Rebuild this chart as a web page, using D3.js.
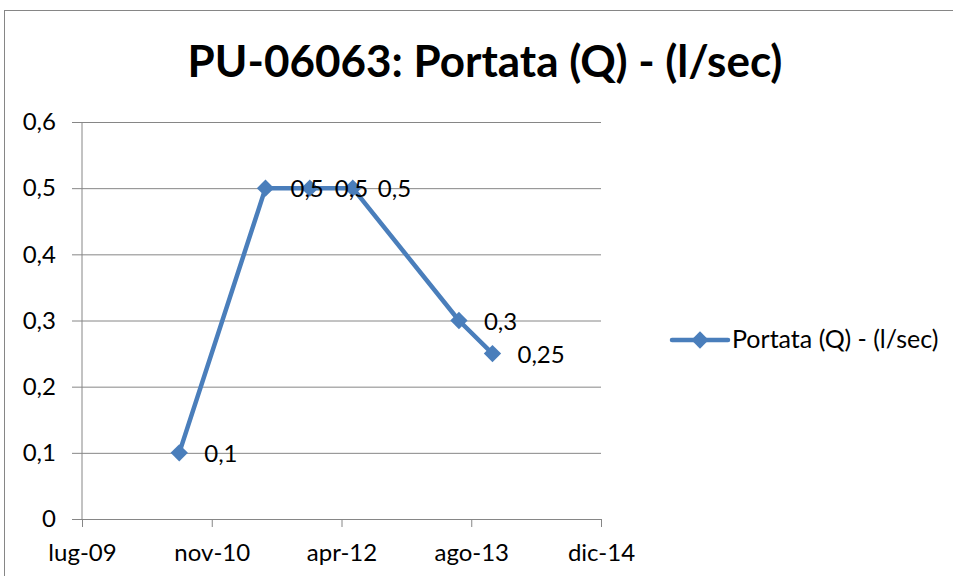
<!DOCTYPE html>
<html>
<head>
<meta charset="utf-8">
<script src="https://cdn.jsdelivr.net/npm/d3@7"></script>
<style>
  body { margin: 0; background: #fff; }
  svg { display: block; }
  text { font-family: Lato, "Open Sans", sans-serif; fill: #000; }
</style>
</head>
<body>
<svg id="chart" width="953" height="576"></svg>
<script>
// Chart data
const chartTitle = "PU-06063: Portata (Q) - (l/sec)";
const seriesName = "Portata (Q) - (l/sec)";
const sampleDates = ["2010-07-27", "2011-06-21", "2011-12-07", "2012-05-19", "2013-06-28", "2013-11-03"];
const sampleValues = [0.1, 0.5, 0.5, 0.5, 0.3, 0.25];
const xTickDates = ["2009-07-21", "2010-11-28", "2012-04-06", "2013-08-14", "2014-12-22"];
const yTickValues = [0, 0.1, 0.2, 0.3, 0.4, 0.5, 0.6];

// Italian locale for dates and decimal comma
const itTime = d3.timeFormatLocale({
  dateTime: "%A %e %B %Y, %X", date: "%d/%m/%Y", time: "%H:%M:%S",
  periods: ["AM", "PM"],
  days: ["domenica", "lunedì", "martedì", "mercoledì", "giovedì", "venerdì", "sabato"],
  shortDays: ["dom", "lun", "mar", "mer", "gio", "ven", "sab"],
  months: ["gennaio", "febbraio", "marzo", "aprile", "maggio", "giugno", "luglio", "agosto", "settembre", "ottobre", "novembre", "dicembre"],
  shortMonths: ["gen", "feb", "mar", "apr", "mag", "giu", "lug", "ago", "set", "ott", "nov", "dic"]
});
const itNum = d3.formatLocale({ decimal: ",", thousands: ".", grouping: [3], currency: ["€", ""] });
const numFmt = itNum.format("~f");
const dateFmt = itTime.format("%b-%y");
const parse = d3.timeParse("%Y-%m-%d");

const data = sampleDates.map((d, i) => ({ date: parse(d), value: sampleValues[i] }));
const xTicks = xTickDates.map(parse);

const svg = d3.select("#chart");
const blue = "#4A7EBB";
const axisGrey = "#868686";

// Outer chart frame
svg.append("rect")
  .attr("x", 4.5).attr("y", 10.5)
  .attr("width", 1000).attr("height", 1000)
  .attr("fill", "#fff").attr("stroke", axisGrey).attr("stroke-width", 1);

const plot = { left: 82, right: 601, top: 122, bottom: 519 };

const x = d3.scaleTime().domain([xTicks[0], xTicks[xTicks.length - 1]]).range([plot.left, plot.right]);
const y = d3.scaleLinear().domain([0, 0.6]).range([plot.bottom, plot.top]);

// Title
svg.append("text")
  .attr("x", 485).attr("y", 77)
  .attr("text-anchor", "middle")
  .style("font-size", "44px").style("font-weight", "bold")
  .text(chartTitle);

// Horizontal gridlines with left tick marks
const yAxis = svg.append("g")
  .attr("transform", `translate(${plot.left},0)`)
  .call(d3.axisLeft(y).tickValues(yTickValues).tickSizeInner(-(plot.right - plot.left)).tickSizeOuter(0).tickFormat(numFmt).tickPadding(26));
yAxis.select(".domain").remove();
yAxis.selectAll(".tick line")
  .attr("x1", -10)
  .attr("stroke", axisGrey).attr("stroke-width", 1);
yAxis.selectAll(".tick text")
  .style("font-size", "24px").style("font-family", "Lato, sans-serif").attr("fill", "#000");

// Vertical axis line
svg.append("line")
  .attr("x1", plot.left).attr("x2", plot.left)
  .attr("y1", plot.top).attr("y2", plot.bottom)
  .attr("stroke", axisGrey).attr("stroke-width", 1);

// Date axis
const xAxis = svg.append("g")
  .attr("transform", `translate(0,${plot.bottom})`)
  .call(d3.axisBottom(x).tickValues(xTicks).tickSizeInner(8).tickSizeOuter(0).tickFormat(dateFmt).tickPadding(17));
xAxis.select(".domain").attr("stroke", axisGrey);
xAxis.selectAll(".tick line").attr("stroke", axisGrey);
xAxis.selectAll(".tick text")
  .style("font-size", "24px").style("font-family", "Lato, sans-serif").attr("fill", "#000");

// Series line
svg.append("path")
  .datum(data)
  .attr("fill", "none")
  .attr("stroke", blue).attr("stroke-width", 4.5)
  .attr("stroke-linejoin", "round")
  .attr("d", d3.line().x(d => x(d.date)).y(d => y(d.value)));

// Diamond markers
const diamond = d3.symbol().type(d3.symbolSquare).size(150);
svg.append("g").selectAll("path")
  .data(data).join("path")
  .attr("d", diamond)
  .attr("transform", d => `translate(${x(d.date)},${y(d.value)}) rotate(45)`)
  .attr("fill", blue);

// Data labels
svg.append("g").selectAll("text")
  .data(data).join("text")
  .attr("x", d => x(d.date) + 25)
  .attr("y", d => y(d.value) + 9)
  .style("font-size", "24px")
  .text(d => numFmt(d.value));

// Legend
const lg = svg.append("g").attr("transform", "translate(0,340)");
lg.append("line")
  .attr("x1", 672).attr("x2", 728).attr("y1", 0).attr("y2", 0)
  .attr("stroke", blue).attr("stroke-width", 4.5).attr("stroke-linecap", "round");
lg.append("path")
  .attr("d", diamond)
  .attr("transform", "translate(700,0) rotate(45)")
  .attr("fill", blue);
lg.append("text")
  .attr("x", 732).attr("y", 8)
  .style("font-size", "25px")
  .text(seriesName);
</script>
</body>
</html>
